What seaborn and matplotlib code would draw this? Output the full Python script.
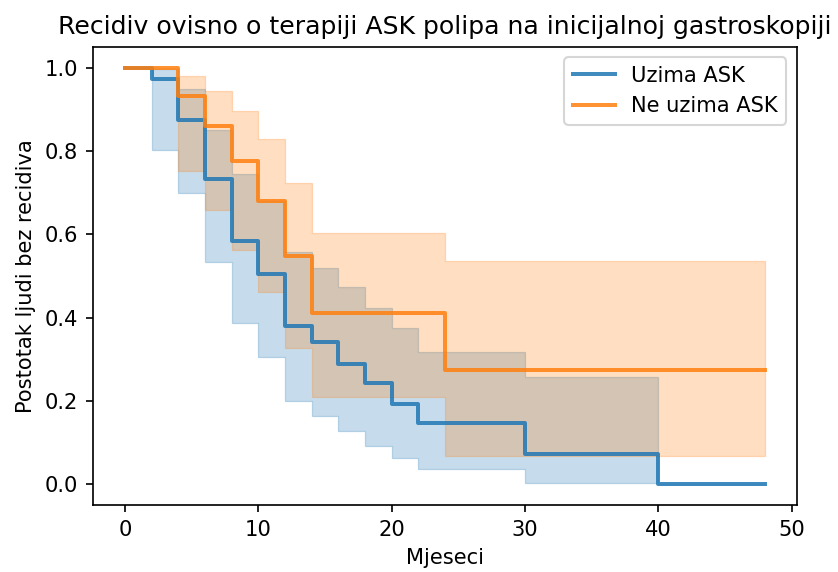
import numpy as np
import pandas as pd
import matplotlib
matplotlib.use("Agg")
import matplotlib.pyplot as plt
import seaborn as sns

# Kaplan-Meier krivulje (ocitano sa slike)
uzima_t = [0, 2, 4, 6, 8, 10, 12, 14, 16, 18, 20, 22, 30, 40, 48]
uzima_s = [1.0, 0.973, 0.875, 0.733, 0.585, 0.505, 0.38, 0.342, 0.288, 0.242, 0.192, 0.147, 0.072, 0.0, 0.0]
uzima_lo = [1.0, 0.803, 0.70, 0.534, 0.388, 0.306, 0.20, 0.164, 0.127, 0.092, 0.062, 0.037, 0.002, 0.0, 0.0]
uzima_hi = [1.0, 0.996, 0.95, 0.85, 0.745, 0.68, 0.558, 0.52, 0.474, 0.422, 0.374, 0.318, 0.258, 0.0, 0.0]

ne_t = [0, 4, 6, 8, 10, 12, 14, 24, 48]
ne_s = [1.0, 0.931, 0.859, 0.775, 0.681, 0.548, 0.412, 0.274, 0.274]
ne_lo = [1.0, 0.751, 0.659, 0.5625, 0.462, 0.326, 0.21, 0.068, 0.068]
ne_hi = [1.0, 0.981, 0.945, 0.895, 0.829, 0.723, 0.603, 0.536, 0.536]

labels = ["Uzima ASK", "Ne uzima ASK"]
colors = ["#1f77b4", "#ff7f0e"]

df_uz = pd.DataFrame({"t": uzima_t, "s": uzima_s, "lo": uzima_lo, "hi": uzima_hi})
df_ne = pd.DataFrame({"t": ne_t, "s": ne_s, "lo": ne_lo, "hi": ne_hi})

dpi = 151
fig = plt.figure(figsize=(838 / dpi, 572 / dpi), dpi=dpi)
ax = fig.add_axes([0.111, 0.117, 0.840, 0.801])

for df, lab, col in zip([df_uz, df_ne], labels, colors):
    ax.fill_between(df["t"], df["lo"], df["hi"], step="post", color=col,
                    alpha=0.25, linewidth=0.6)
    sns.lineplot(data=df, x="t", y="s", ax=ax, color=col, label=lab,
                 drawstyle="steps-post", linewidth=1.9, alpha=0.85,
                 estimator=None, sort=False)

ax.set_title("Recidiv ovisno o terapiji ASK polipa na inicijalnoj gastroskopiji")
ax.set_xlabel("Mjeseci")
ax.set_ylabel("Postotak ljudi bez recidiva")
ax.legend(loc="upper right")

fig.savefig("out.png", dpi=dpi)
